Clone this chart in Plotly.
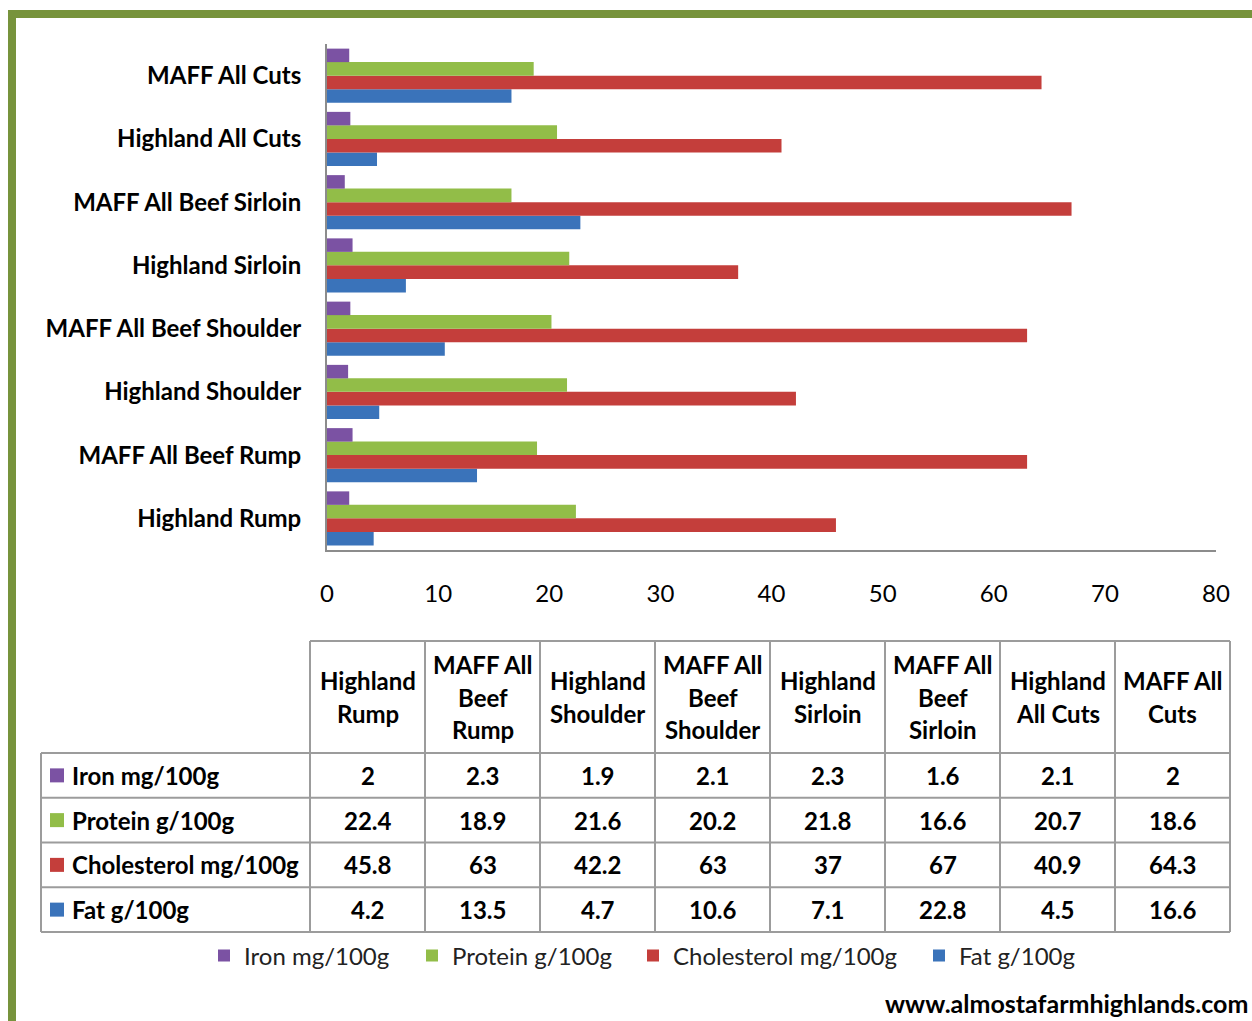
import plotly.graph_objects as go

# ---------------- data ----------------
categories = ["Highland Rump", "MAFF All Beef Rump", "Highland Shoulder", "MAFF All Beef Shoulder",
              "Highland Sirloin", "MAFF All Beef Sirloin", "Highland All Cuts", "MAFF All Cuts"]
header_labels = ["Highland<br>Rump", "MAFF All<br>Beef<br>Rump", "Highland<br>Shoulder",
                 "MAFF All<br>Beef<br>Shoulder", "Highland<br>Sirloin", "MAFF All<br>Beef<br>Sirloin",
                 "Highland<br>All Cuts", "MAFF All<br>Cuts"]
series_names = ["Iron mg/100g", "Protein g/100g", "Cholesterol mg/100g", "Fat g/100g"]
iron = [2, 2.3, 1.9, 2.1, 2.3, 1.6, 2.1, 2]
protein = [22.4, 18.9, 21.6, 20.2, 21.8, 16.6, 20.7, 18.6]
cholesterol = [45.8, 63, 42.2, 63, 37, 67, 40.9, 64.3]
fat = [4.2, 13.5, 4.7, 10.6, 7.1, 22.8, 4.5, 16.6]
x_ticks = [0, 10, 20, 30, 40, 50, 60, 70, 80]
footer = "www.almostafarmhighlands.com"

series_values = [iron, protein, cholesterol, fat]
colors = ["#7B52A3", "#92BD48", "#C43E3B", "#3A73BA"]

W, H = 1252, 1021
FONT = "Lato"
FS = 24
GRID = "#9C9C9C"


def px(x):
    return x / W


def py(y):
    return 1 - y / H


legend_ids = ["legend", "legend2", "legend3", "legend4"]
legend_left = [204, 412, 633, 919]

fig = go.Figure()
# Plotly draws first trace at bottom of group -> add in reverse order
for name, vals, col, lid in reversed(list(zip(series_names, series_values, colors, legend_ids))):
    fig.add_trace(go.Bar(y=categories, x=vals, name=name, orientation="h", legend=lid,
                         marker=dict(color=col, line=dict(width=0))))

shapes = []
annotations = []

# ---- border (green) ----
shapes.append(dict(type="rect", xref="paper", yref="paper", x0=px(12), x1=px(W + 20),
                   y0=py(H + 20), y1=py(14), line=dict(color="#77933C", width=8),
                   fillcolor="rgba(0,0,0,0)", layer="below"))

# ---- data table ----
col_x = [41, 310, 425, 540, 655, 770, 885, 1000, 1115, 1230]
head_top, head_bot = 641, 753
row_h = 44.75
row_tops = [head_bot + i * row_h for i in range(len(series_names) + 1)]
table_bot = row_tops[-1]
lw = 2

# horizontal lines
shapes.append(dict(type="line", xref="paper", yref="paper", x0=px(col_x[1]), x1=px(col_x[-1]),
                   y0=py(head_top), y1=py(head_top), line=dict(color=GRID, width=lw)))
for yt in row_tops:
    shapes.append(dict(type="line", xref="paper", yref="paper", x0=px(col_x[0]), x1=px(col_x[-1]),
                       y0=py(yt), y1=py(yt), line=dict(color=GRID, width=lw)))
# vertical lines
shapes.append(dict(type="line", xref="paper", yref="paper", x0=px(col_x[0]), x1=px(col_x[0]),
                   y0=py(head_bot), y1=py(table_bot), line=dict(color=GRID, width=lw)))
for cx in col_x[1:]:
    shapes.append(dict(type="line", xref="paper", yref="paper", x0=px(cx), x1=px(cx),
                       y0=py(head_top), y1=py(table_bot), line=dict(color=GRID, width=lw)))

# header text
hc = (head_top + head_bot) / 2
line_sp = 32.5
for j, lab in enumerate(header_labels):
    parts = lab.split("<br>")
    n = len(parts)
    cxm = (col_x[j + 1] + col_x[j + 2]) / 2
    for i, p in enumerate(parts):
        yy = hc + (i - (n - 1) / 2) * line_sp
        annotations.append(dict(x=px(cxm), y=py(yy), xref="paper", yref="paper", text=f"<b>{p}</b>",
                                showarrow=False, xanchor="center", yanchor="middle",
                                font=dict(family=FONT, size=FS, color="#000")))

# rows
for r, (name, vals, col) in enumerate(zip(series_names, series_values, colors)):
    yc = row_tops[r] + row_h / 2
    shapes.append(dict(type="rect", xref="paper", yref="paper", x0=px(50), x1=px(64),
                       y0=py(yc + 7), y1=py(yc - 7), fillcolor=col, line=dict(width=0)))
    annotations.append(dict(x=px(70), y=py(yc), xref="paper", yref="paper", text=f"<b>{name}</b>",
                            showarrow=False, xanchor="left", yanchor="middle",
                            font=dict(family=FONT, size=FS, color="#000")))
    for j, v in enumerate(vals):
        cxm = (col_x[j + 1] + col_x[j + 2]) / 2
        annotations.append(dict(x=px(cxm), y=py(yc), xref="paper", yref="paper", text=f"<b>{v:g}</b>",
                                showarrow=False, xanchor="center", yanchor="middle",
                                font=dict(family=FONT, size=FS, color="#000")))

# footer
annotations.append(dict(x=px(1250), y=py(1003), xref="paper", yref="paper", text=f"<b>{footer}</b>",
                        showarrow=False, xanchor="right", yanchor="middle",
                        font=dict(family=FONT, size=25, color="#000")))

legend_layout = {}
for lid, lx in zip(legend_ids, legend_left):
    legend_layout[lid] = dict(orientation="h", x=px(lx), xanchor="left", y=py(956), yanchor="middle",
                              font=dict(family=FONT, size=FS, color="#222"), borderwidth=0,
                              bgcolor="rgba(0,0,0,0)", itemclick=False, itemdoubleclick=False)

fig.update_layout(
    width=W, height=H,
    margin=dict(l=0, r=0, t=0, b=0, autoexpand=False),
    paper_bgcolor="white", plot_bgcolor="white",
    barmode="group", bargap=0.146, bargroupgap=0,
    font=dict(family=FONT, size=FS, color="#000"),
    xaxis=dict(domain=[px(327), px(1216)], range=[0, 80], tickvals=x_ticks, automargin=False,
               showgrid=False, zeroline=False, showline=True, linecolor="#8C8C8C", linewidth=2,
               ticks="", ticklabelstandoff=21, tickfont=dict(family=FONT, size=FS, color="#000"),
               fixedrange=True),
    yaxis=dict(domain=[py(550), py(44)], showgrid=False, zeroline=False, showline=True,
               automargin=False,
               linecolor="#8C8C8C", linewidth=2, ticks="", ticklabelstandoff=19,
               tickfont=dict(family=FONT, size=FS, color="#000"),
               tickmode="array", tickvals=categories,
               ticktext=[f"<b>{c}</b>" for c in categories], fixedrange=True),
    showlegend=True,
    shapes=shapes, annotations=annotations,
    **legend_layout,
)

fig.write_html("out.html")
